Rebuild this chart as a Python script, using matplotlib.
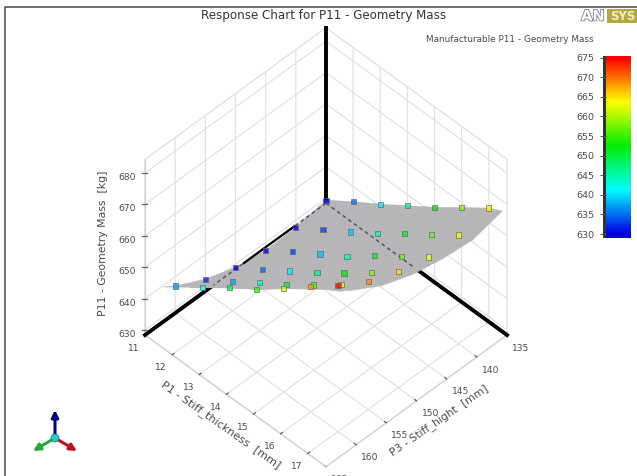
import numpy as np
import matplotlib
matplotlib.use("Agg")
import matplotlib.pyplot as plt
import matplotlib.patheffects as pe
from matplotlib.colors import LinearSegmentedColormap
from matplotlib.patches import Rectangle, FancyArrowPatch, Circle
from mpl_toolkits.mplot3d import proj3d

# ---- data ----
P1_points = [11, 12, 13, 14, 15, 16, 17]
P3_points = [135, 140, 145, 150, 155, 160]
mass_135 = [629.4, 635.2, 640.7, 646.5, 652.3, 658.5, 664.6]
mass_140 = [627.8, 633.3, 638.8, 644.6, 650.8, 656.9, 663.0]
mass_145 = [627.4, 633.3, 638.8, 644.3, 650.8, 656.9, 663.0]
mass_150 = [629.0, 634.5, 640.4, 646.2, 652.3, 658.8, 665.3]
mass_155 = [632.2, 637.7, 643.6, 649.4, 655.5, 662.0, 669.1]
mass_160 = [637.0, 642.8, 649.0, 654.8, 661.3, 668.4, 674.8]
# surface rim, just outside the points
P1_edge = 17.5
P3_edge = 162
mass_rim_p3 = [639.5, 645.7, 651.8, 658.0, 664.1, 670.3, 676.4]
mass_rim_p1 = [666.8, 664.5, 665.5, 667.5, 671.0, 676.5, 679.0]

P1_ticks = [11, 12, 13, 14, 15, 16, 17]
P3_ticks = [135, 140, 145, 150, 155, 160, 165]
mass_ticks = [630, 640, 650, 660, 670, 680]
cbar_ticks = [630, 635, 640, 645, 650, 655, 660, 665, 670, 675]
P1_lim = (11, 17.67)
P3_lim = (135, 165)
mass_lim = (628.4, 684.3)
cbar_lim = (629, 675.4)
# ------------------------------------

W, H = 637, 476
TXT = '#4a4a4a'
plt.rcParams['font.family'] = 'DejaVu Sans'
plt.rcParams['grid.color'] = '#e2e2e2'
plt.rcParams['grid.linewidth'] = 0.9

fig = plt.figure(figsize=(W / 100, H / 100), dpi=100, facecolor='white')
ax = fig.add_axes([0.1, 0.1, 0.7, 0.7], projection='3d', computed_zorder=False)
ax.set_proj_type('ortho')
ax.view_init(elev=46.7, azim=45)
ax.set_box_aspect((1, 1, 1))
ax.set_xlim(*P3_lim, view_margin=0)
ax.set_ylim(*P1_lim, view_margin=0)
ax.set_zlim(*mass_lim, view_margin=0)
ax.patch.set_alpha(0)

cmap = LinearSegmentedColormap.from_list(
    'rainbow5', ['#0000e6', '#00ffff', '#00ee00', '#ffff00', '#ff0000'])
norm = plt.Normalize(630, 675)

# panes
for a in (ax.xaxis, ax.yaxis, ax.zaxis):
    a.set_pane_color((1, 1, 1, 1))
    a.pane.set_edgecolor('#e2e2e2')
    a.line.set_color('#d4d4d4')
    a.line.set_linewidth(0.9)
    a._axinfo['tick']['inward_factor'] = 0.0
    a._axinfo['tick']['outward_factor'] = 0.12
    a._axinfo['tick']['color'] = '#666666'
    a._axinfo['tick']['linewidth'] = {True: 0.8, False: 0.5}
ax.zaxis._axinfo['tick']['outward_factor'] = 0.0
ax.set_xticks(P3_ticks)
ax.set_yticks(P1_ticks)
ax.set_zticks(mass_ticks)
ax.tick_params(axis='x', labelsize=6.6, colors=TXT, pad=-3.5)
ax.tick_params(axis='y', labelsize=6.6, colors=TXT, pad=-3.5)
ax.tick_params(axis='z', labelsize=6.6, colors=TXT, pad=0)
for t in ax.get_xticklabels():
    t.set_ha('left')
for t in ax.get_yticklabels():
    t.set_ha('right')

# thick axes (behind surface)
ax.plot([135, 135], [11, 11], mass_lim, color='black', lw=2.8, zorder=1, clip_on=False)
ax.plot([153.6, 165], [11, 11], [mass_lim[0]] * 2, color='black', lw=2.8, zorder=1, clip_on=False)
ax.plot([140.2, 148.6], [11, 11], [mass_lim[0]] * 2, color='black', lw=1.6, zorder=4, clip_on=False)
ax.plot([135, 135], [14.2, P1_lim[1]], [mass_lim[0]] * 2, color='black', lw=2.8, zorder=1, clip_on=False)

# response surface
P3_grid = np.array(P3_points + [P3_edge])
P1_grid = np.array(P1_points + [P1_edge])
Zrows = np.array([mass_135, mass_140, mass_145, mass_150, mass_155, mass_160, mass_rim_p3])
Z = np.column_stack([Zrows, mass_rim_p1])
XX, YY = np.meshgrid(P3_grid, P1_grid, indexing='ij')
ax.plot_surface(XX, YY, Z, color='#b6b6b8', shade=False, linewidth=0.3,
                edgecolor='#b6b6b8', rstride=1, cstride=1, zorder=2, clip_on=False)

# hidden portion of axes, seen through surface
ax.plot([135, 153.6], [11, 11], [mass_lim[0]] * 2, color='#55556a', lw=1.1, ls=(0, (2.5, 2)), zorder=3, clip_on=False)
ax.plot([135, 135], [11, 14.2], [mass_lim[0]] * 2, color='#55556a', lw=1.1, ls=(0, (2.5, 2)), zorder=3, clip_on=False)

# design points
Zp = np.array([mass_135, mass_140, mass_145, mass_150, mass_155, mass_160])
Xp, Yp = np.meshgrid(P3_points, P1_points, indexing='ij')
ax.scatter(Xp.ravel(), Yp.ravel(), Zp.ravel(), c=Zp.ravel(), cmap=cmap, norm=norm,
           marker='s', s=14, edgecolors='#5f6a6a', linewidths=0.6,
           depthshade=False, alpha=0.8, zorder=5, clip_on=False)


# fit the 3D box to the reference pixel positions
def px(x, y, z):
    xp, yp, _ = proj3d.proj_transform(x, y, z, ax.get_proj())
    return ax.transData.transform((xp, yp))


target_L = np.array([145.0, H - 335.0])
target_R = np.array([507.0, H - 335.0])
S = 400.0
c = np.array([326.0, H - 300.0])
for _ in range(6):
    ax.set_position([(c[0] - S / 2) / W, (c[1] - S / 2) / H, S / W, S / H])
    ax.apply_aspect()
    fig.canvas.draw()
    L = px(P3_lim[1], P1_lim[0], mass_lim[0])
    R = px(P3_lim[0], P1_lim[1], mass_lim[0])
    S *= (target_R[0] - target_L[0]) / (R[0] - L[0])
    c = c + ((target_L + target_R) / 2 - (L + R) / 2)
ax.set_position([(c[0] - S / 2) / W, (c[1] - S / 2) / H, S / W, S / H])
ax.apply_aspect()
fig.canvas.draw()

# overlay in pixel coordinates
ov = fig.add_axes([0, 0, 1, 1], facecolor='none', zorder=10)
ov.set_xlim(0, W)
ov.set_ylim(H, 0)
ov.axis('off')

# short horizontal mass ticks
for m in mass_ticks:
    p = px(P3_lim[1], P1_lim[0], m)
    ov.plot([p[0] - 3, p[0] + 2], [H - p[1]] * 2, color='#666666', lw=0.9)

# frame
ov.plot([5, 5, W], [H, 6.5, 6.5], color='#555555', lw=1.2, clip_on=False)

ov.text(324, 16, 'Response Chart for P11 - Geometry Mass', ha='center', va='center',
        fontsize=8.6, color='#333333')
ov.text(510, 40, 'Manufacturable P11 - Geometry Mass', ha='center', va='center',
        fontsize=6.4, color=TXT)
ov.text(103, 243, 'P11 - Geometry Mass  [kg]', rotation=90, ha='center', va='center',
        fontsize=7.8, color=TXT)
ov.text(221, 425, 'P1 - Stiff_thickness  [mm]', rotation=-35.2, ha='center', va='center',
        fontsize=8, color=TXT, rotation_mode='anchor')
ov.text(439, 420, 'P3 - Stiff_hight  [mm]', rotation=34.5, ha='center', va='center',
        fontsize=7.8, color=TXT, rotation_mode='anchor')

# logo
ov.add_patch(Rectangle((607, 9), 30, 14, facecolor='#b5a93f', edgecolor='none'))
ov.text(593, 16, 'AN', ha='center', va='center', fontsize=10.5, fontweight='bold',
        color='white', path_effects=[pe.withStroke(linewidth=1.2, foreground='#808080')])
ov.text(623, 16, 'SYS', ha='center', va='center', fontsize=8.5, fontweight='bold', color='#eeeecc',
        clip_on=True)

# colour bar
cax = fig.add_axes([606 / W, 1 - 238 / H, 25 / W, 182 / H], zorder=11)
grad = np.linspace(cbar_lim[0], cbar_lim[1], 256).reshape(-1, 1)
cax.imshow(grad, aspect='auto', origin='lower', cmap=cmap, norm=norm,
           extent=[0, 1, cbar_lim[0], cbar_lim[1]])
cax.set_xticks([])
cax.yaxis.set_ticks(cbar_ticks)
cax.set_ylim(*cbar_lim)
cax.tick_params(axis='y', labelsize=6.8, colors=TXT, length=4, width=0.7, pad=4.5)
for s in cax.spines.values():
    s.set_visible(False)
ov.add_patch(Rectangle((602.5, 56), 3.5, 182, facecolor='#333333', edgecolor='none'))

# triad
o = (55, 438)
for tip, col in (((55, 410), '#00008c'), ((33, 451), '#22aa33'), ((77, 451), '#bb1122')):
    ov.add_patch(FancyArrowPatch(o, tip, arrowstyle='-|>', mutation_scale=10, lw=2.2,
                                 color=col, shrinkA=0, shrinkB=0))
ov.add_patch(Circle(o, 4, facecolor='#22cccc', edgecolor='#117777', lw=0.5, zorder=5))

fig.savefig('out.png', dpi=100)
